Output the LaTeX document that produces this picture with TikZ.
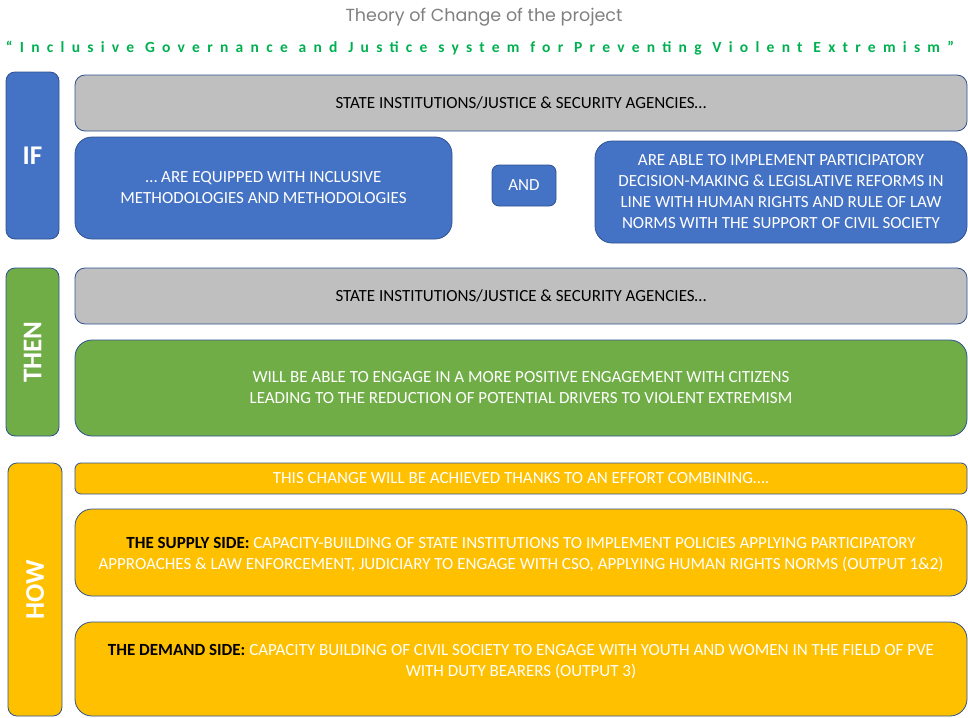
\documentclass[tikz,border=0pt]{standalone}
\usepackage{fontspec}
\setmainfont{Carlito}
\newfontfamily\titlefont{Poppins}
\usepackage{tikz}
\definecolor{ifblue}{RGB}{68,114,196}
\definecolor{thengreen}{RGB}{112,173,71}
\definecolor{howyellow}{RGB}{255,192,0}
\definecolor{agencygray}{RGB}{191,191,191}
\definecolor{edge}{RGB}{47,82,143}
\definecolor{titlegray}{RGB}{128,128,128}
\definecolor{projgreen}{RGB}{0,176,80}

\begin{document}
\begin{tikzpicture}[x=1pt, y=-1pt,
  panel/.style={draw=edge, line width=0.8pt, align=center, inner sep=0pt, text=white, font=\fontsize{17}{21}\selectfont},
  side/.style={panel, rounded corners=9pt, font=\fontsize{27}{30}\selectfont\bfseries},
  bar/.style={panel, rounded corners=10pt, fill=agencygray, text=black},
  big/.style={panel, rounded corners=17pt}]
  \useasboundingbox (0, 0) rectangle (968, 717);

  \node[text=titlegray, font=\titlefont\fontsize{17.5}{20}\selectfont] (title) at (484, 17) {Theory of Change of the project};
  \node[text=projgreen, font=\fontsize{15.5}{18}\selectfont\bfseries\addfontfeature{LetterSpace=47}] (project) at (480, 48)
    {“Inclusive Governance and Justice system for Preventing Violent Extremism”};

  % IF
  \node[side, fill=ifblue, minimum width=53pt, minimum height=167pt] (ifside) at (32.5, 155.5) {IF};
  \node[bar, minimum width=892pt, minimum height=56pt] (agencies1) at (521, 103) {STATE INSTITUTIONS/JUSTICE \& SECURITY AGENCIES…};
  \node[big, fill=ifblue, minimum width=377pt, minimum height=102pt] (equipped) at (263.5, 188)
    {… ARE EQUIPPED WITH INCLUSIVE\\METHODOLOGIES AND METHODOLOGIES};
  \node[panel, fill=ifblue, rounded corners=7pt, minimum width=64pt, minimum height=41pt] (and) at (524, 185.5) {AND};
  \node[big, fill=ifblue, minimum width=372pt, minimum height=102pt] (able) at (781, 192)
    {ARE ABLE TO IMPLEMENT PARTICIPATORY\\DECISION-MAKING \& LEGISLATIVE REFORMS IN\\LINE WITH HUMAN RIGHTS AND RULE OF LAW\\NORMS WITH THE SUPPORT OF CIVIL SOCIETY};

  % THEN
  \node[side, fill=thengreen, rotate=90, minimum width=168pt, minimum height=53pt] (thenside) at (32.5, 352) {THEN};
  \node[bar, minimum width=892pt, minimum height=56pt] (agencies2) at (521, 296) {STATE INSTITUTIONS/JUSTICE \& SECURITY AGENCIES…};
  \node[big, fill=thengreen, minimum width=892pt, minimum height=96pt] (engage) at (521, 388)
    {WILL BE ABLE TO ENGAGE IN A MORE POSITIVE ENGAGEMENT WITH CITIZENS\\LEADING TO THE REDUCTION OF POTENTIAL DRIVERS TO VIOLENT EXTREMISM};

  % HOW
  \node[side, fill=howyellow, rotate=90, minimum width=253pt, minimum height=54pt] (howside) at (35, 589.5) {HOW};
  \node[panel, fill=howyellow, rounded corners=6pt, minimum width=892pt, minimum height=31pt] (effort) at (521, 478.5)
    {THIS CHANGE WILL BE ACHIEVED THANKS TO AN EFFORT COMBINING….};
  \node[big, fill=howyellow, minimum width=892pt, minimum height=87pt] (supply) at (521, 552.5) {};
  \node[text=white, align=center, font=\fontsize{17}{21}\selectfont] (supplytext) at (521, 554.5)
    {{\color{black}\bfseries THE SUPPLY SIDE:} CAPACITY-BUILDING OF STATE INSTITUTIONS TO IMPLEMENT POLICIES APPLYING PARTICIPATORY\\APPROACHES \& LAW ENFORCEMENT, JUDICIARY TO ENGAGE WITH CSO, APPLYING HUMAN RIGHTS NORMS (OUTPUT 1\&2)};
  \node[big, fill=howyellow, minimum width=892pt, minimum height=94pt] (demand) at (521, 669) {};
  \node[text=white, align=center, font=\fontsize{17}{21}\selectfont] (demandtext) at (521, 661.5)
    {{\color{black}\bfseries THE DEMAND SIDE:} CAPACITY BUILDING OF CIVIL SOCIETY TO ENGAGE WITH YOUTH AND WOMEN IN THE FIELD OF PVE\\WITH DUTY BEARERS (OUTPUT 3)};
\end{tikzpicture}
\end{document}
